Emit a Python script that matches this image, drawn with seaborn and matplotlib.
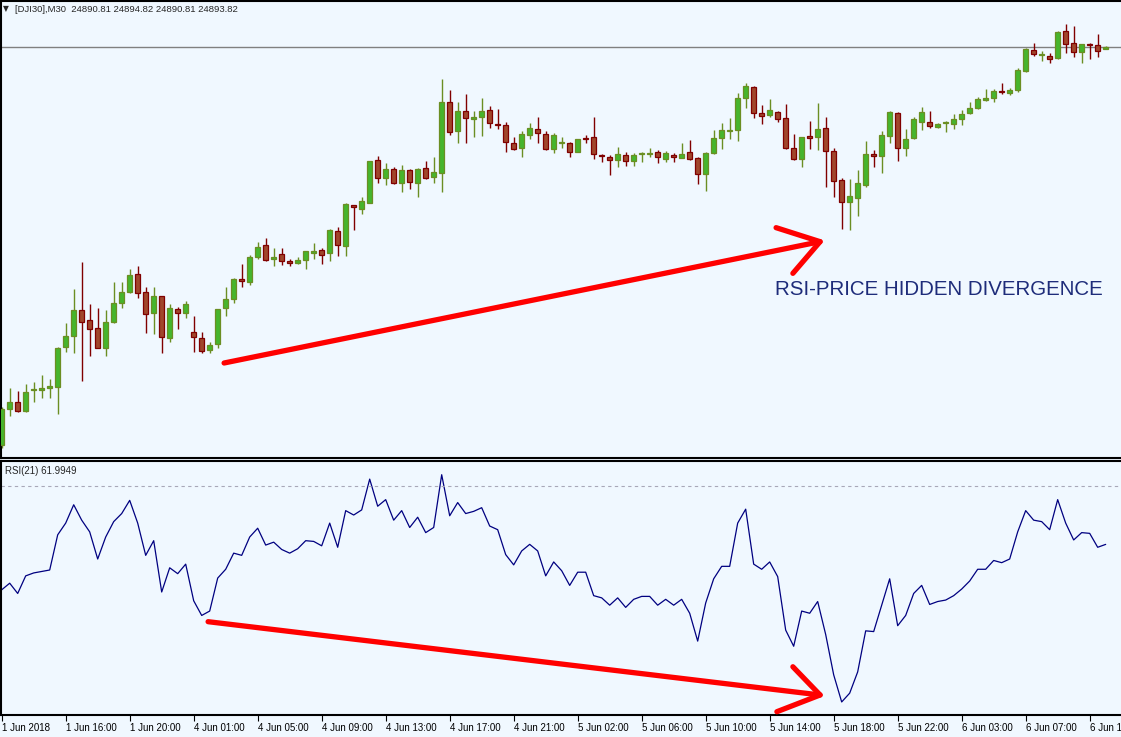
import numpy as np
import pandas as pd
import seaborn as sns
import matplotlib.pyplot as plt

# DJI30 M30 bars (1 Jun 12:00 -> 6 Jun 11:xx)
opens = [24416, 24458.8, 24467.2, 24457.2, 24482.4, 24482.4, 24484, 24486, 24533.2, 24546.4,
         24578, 24565.6, 24556, 24532, 24564, 24586.8, 24600, 24620.8, 24599.2, 24574,
         24594.4, 24544, 24579.2, 24574, 24551.2, 24544, 24529.6, 24536.8, 24580, 24591.6,
         24614.8, 24612, 24641.2, 24655.6, 24638.8, 24644.8, 24636.8, 24634.8, 24637.6, 24646.8,
         24649.6, 24646.8, 24672.4, 24655.2, 24703.6, 24699.6, 24706.8, 24758, 24736, 24746.8,
         24730.8, 24745.6, 24730, 24748, 24737.2, 24742.8, 24827.2, 24793.2, 24817.2, 24806.8,
         24810, 24817.6, 24801.2, 24799.6, 24778, 24772, 24787.6, 24794.8, 24789.2, 24770.8,
         24778, 24778, 24768, 24784.4, 24785.2, 24763.6, 24762, 24758.4, 24763.6, 24757.2,
         24764.8, 24765.6, 24767.2, 24759.6, 24764.4, 24760.8, 24767.2, 24760, 24741.6, 24766.8,
         24784.8, 24792.8, 24794, 24832.8, 24845.2, 24814, 24811.6, 24816, 24808, 24772,
         24758.8, 24786.4, 24786, 24796, 24768.8, 24734, 24707.2, 24712.8, 24728, 24764.8,
         24763.2, 24787.2, 24814, 24772, 24784, 24804, 24803.6, 24798, 24802, 24800.8,
         24806.8, 24814, 24820.8, 24830.4, 24832, 24840.8, 24838.8, 24842, 24864.4, 24890,
         24884, 24882.8, 24880.8, 24912.4, 24898, 24888, 24897.6, 24896, 24890.81]
highs = [24462, 24484, 24480.8, 24488.8, 24492, 24500, 24495.2, 24534, 24562, 24602.8,
         24635.6, 24584.8, 24580, 24578, 24611.6, 24612, 24626.8, 24630.8, 24605.2, 24606,
         24594.4, 24584.8, 24581.2, 24588.8, 24570.8, 24551.2, 24539.2, 24578.8, 24606, 24616,
         24632.8, 24644, 24659.2, 24664, 24652, 24652, 24638.8, 24641.2, 24649.2, 24658.4,
         24652.8, 24674.8, 24677.2, 24706.8, 24703.6, 24714, 24756.8, 24762.8, 24754, 24749.2,
         24751.6, 24747.2, 24748, 24756.8, 24761.2, 24855.2, 24842, 24827.2, 24837.2, 24817.2,
         24832.4, 24822.8, 24818.8, 24803.6, 24785.2, 24792.8, 24802.8, 24809.6, 24792.8, 24790,
         24785.2, 24780, 24783.2, 24788, 24809.2, 24764.8, 24764, 24773.2, 24767.2, 24766,
         24768, 24772.4, 24770, 24768.8, 24766, 24778, 24782, 24761.2, 24768, 24794,
         24802.8, 24808, 24838.8, 24850.8, 24846.8, 24824, 24830.8, 24817.2, 24825.2, 24788.8,
         24786, 24804.8, 24826.8, 24810, 24772, 24736, 24735.2, 24746, 24780.8, 24770,
         24792.8, 24816.8, 24815.2, 24794.8, 24809.2, 24821.2, 24816.8, 24802.8, 24805.2, 24813.2,
         24818, 24827.2, 24834, 24842.8, 24842.8, 24850, 24844, 24868.8, 24892, 24898,
         24889.2, 24886, 24913.2, 24921.2, 24918.8, 24897.2, 24898, 24909.2, 24894.82]
lows = [24412, 24450.8, 24456, 24456, 24468, 24472.8, 24472.8, 24452.8, 24528, 24526.8,
        24493.2, 24523.2, 24532, 24523.2, 24562.8, 24580, 24598, 24592, 24550.8, 24549.2,
        24526.8, 24540, 24555.6, 24568.8, 24528, 24526.8, 24526, 24532, 24570.8, 24586.8,
        24606, 24608, 24639.2, 24636.8, 24631.2, 24632.4, 24631.2, 24633.2, 24627.2, 24639.6,
        24633.6, 24636.8, 24643.2, 24643.2, 24674.4, 24692.8, 24706, 24730.8, 24728.4, 24728.8,
        24720, 24722.8, 24714, 24734.8, 24730.8, 24720, 24788.4, 24778, 24778.8, 24786,
        24786.8, 24796.8, 24794.8, 24768, 24770, 24762, 24782.8, 24778.8, 24770, 24766,
        24772, 24762, 24768, 24778.8, 24759.6, 24756, 24740, 24750, 24750.8, 24750.8,
        24756, 24762, 24754.8, 24756, 24756, 24760, 24758, 24729.2, 24721.2, 24765.2,
        24771.2, 24782.8, 24781.2, 24820, 24808.8, 24800.8, 24810, 24803.2, 24770.8, 24758,
        24750, 24770.8, 24770, 24725.2, 24713.2, 24675.2, 24674, 24691.2, 24726, 24750,
        24742.8, 24778.8, 24757.2, 24763.2, 24782.8, 24794, 24796.8, 24796, 24792, 24794.8,
        24800, 24813.2, 24819.6, 24828.8, 24828, 24837.2, 24836.4, 24839.2, 24863.6, 24883.2,
        24877.2, 24874.8, 24879.6, 24886, 24881.2, 24874, 24879.2, 24881.2, 24890.81]
closes = [24458.8, 24467.2, 24457.2, 24479.2, 24483.2, 24484, 24486.4, 24532, 24546.4, 24578,
          24564, 24554.8, 24532.8, 24564, 24586, 24599.2, 24619.6, 24598, 24572.8, 24594.4,
          24545.2, 24580, 24574, 24584.8, 24545.2, 24529.2, 24535.6, 24578.8, 24591.6, 24614.8,
          24613.2, 24641.2, 24654, 24638.4, 24642, 24636.4, 24634, 24638, 24648.4, 24648.4,
          24644.4, 24674, 24655.6, 24705.2, 24701.2, 24708.4, 24756.4, 24736.8, 24746.8, 24730.8,
          24746, 24732, 24746.8, 24736, 24743.2, 24827.2, 24792, 24816.4, 24808, 24810,
          24816.4, 24802, 24799.6, 24779.2, 24770.8, 24789.2, 24796, 24790, 24771.6, 24788,
          24780, 24768, 24783.2, 24782.8, 24764.8, 24762.8, 24758, 24764.8, 24757.2, 24763.6,
          24766, 24766.8, 24761.2, 24766, 24761.2, 24765.6, 24758.8, 24740.8, 24766, 24784,
          24794, 24794.4, 24832, 24846.4, 24814, 24810.8, 24817.6, 24807.2, 24772, 24758.8,
          24786, 24784.8, 24795.2, 24768.8, 24732.8, 24707.2, 24714.8, 24730, 24764.8, 24763.2,
          24788, 24815.2, 24772, 24782.8, 24807.2, 24815.2, 24799.2, 24801.2, 24803.6, 24807.2,
          24813.2, 24820.4, 24831.6, 24832.4, 24840.8, 24839.2, 24842, 24865.6, 24890.8, 24884.8,
          24885.2, 24878.8, 24911.2, 24896.8, 24888, 24897.2, 24896, 24888.8, 24893.82]

# RSI(21) per bar
rsi = [55.8, 56.7, 55.3, 57.7, 58.1, 58.3, 58.5, 63.3, 64.9, 67.4,
       65.3, 63.7, 60.0, 63.0, 65.1, 66.2, 68.0, 64.9, 60.5, 62.5,
       55.5, 58.8, 58.0, 59.3, 54.3, 52.3, 52.9, 57.4, 58.6, 60.8,
       60.5, 63.0, 64.2, 61.9, 62.3, 61.3, 60.8, 61.4, 62.5, 62.4,
       61.8, 64.9, 61.6, 66.6, 66.0, 66.7, 70.9, 67.2, 68.1, 65.3,
       66.6, 64.3, 65.7, 63.6, 64.3, 71.5, 65.9, 67.7, 66.2, 66.5,
       67.0, 64.5, 64.0, 60.6, 59.2, 61.1, 62.0, 61.1, 57.7, 59.6,
       58.4, 56.4, 58.2, 58.2, 55.0, 54.7, 53.7, 54.7, 53.4, 54.5,
       54.9, 54.9, 53.7, 54.5, 53.7, 54.5, 52.6, 48.8, 54.0, 57.3,
       59.0, 59.0, 64.9, 66.8, 59.3, 58.6, 59.6, 57.6, 50.3, 48.1,
       52.9, 52.6, 54.2, 49.7, 44.2, 40.5, 41.7, 44.6, 50.2, 50.1,
       53.7, 57.3, 50.9, 52.3, 55.3, 56.4, 53.8, 54.2, 54.4, 55.0,
       55.9, 57.0, 58.6, 58.6, 59.8, 59.5, 60.0, 63.7, 66.6, 65.3,
       65.1, 64.0, 68.1, 64.9, 62.6, 63.6, 63.5, 61.6, 61.9949]

tick_labels = ["1 Jun 2018", "1 Jun 16:00", "1 Jun 20:00", "4 Jun 01:00", "4 Jun 05:00",
               "4 Jun 09:00", "4 Jun 13:00", "4 Jun 17:00", "4 Jun 21:00", "5 Jun 02:00",
               "5 Jun 06:00", "5 Jun 10:00", "5 Jun 14:00", "5 Jun 18:00", "5 Jun 22:00",
               "6 Jun 03:00", "6 Jun 07:00", "6 Jun 11:00"]

df = pd.DataFrame({'open': opens, 'high': highs, 'low': lows, 'close': closes, 'rsi': rsi})
df['bar'] = np.arange(len(df))

sns.set_style("white")
plt.rcParams['font.family'] = ['Liberation Sans', 'DejaVu Sans']

bg = '#F0F8FF'
W, H = 1121, 737
fig = plt.figure(figsize=(W / 100, H / 100), dpi=100, facecolor=bg)
ax = fig.add_axes([1 / W, 1 - 458 / H, 1.0, 457 / H], facecolor=bg)
ax2 = fig.add_axes([1 / W, 1 - 715 / H, 1.0, 254 / H], facecolor=bg)

# candles
up = df['close'] >= df['open']
for mask, fill, edge in [(up, '#46B52D', '#6B8E23'), (~up, '#A0462C', '#800000')]:
    d = df[mask]
    ax.vlines(d['bar'], d['low'], d['high'], colors=edge, lw=1, zorder=2)
    ax.bar(d['bar'], (d['close'] - d['open']).abs().clip(lower=0.8),
           bottom=d[['open', 'close']].min(axis=1), width=0.62,
           color=fill, edgecolor=edge, linewidth=0.9, zorder=3)
ax.axhline(df['close'].iloc[-1], color='#808080', lw=1, zorder=1)

ax.set_xlim(-0.0875, 140.04)
ax.set_ylim(24400.4, 24948.8)
ax.set_xticks([])
ax.set_yticks([])

# rsi panel
sns.lineplot(data=df, x='bar', y='rsi', ax=ax2, color='#000080', linewidth=0.9)
ax2.axhline(70, color='#A8A8B8', lw=0.8, ls=(0, (3, 3)))
ax2.set_xlim(-0.0875, 140.04)
ax2.set_ylim(38.72, 73.37)
ax2.set_xlabel('')
ax2.set_ylabel('')
ax2.set_yticks([])
ax2.set_xticks(np.arange(0, len(df), 8))
ax2.set_xticklabels(tick_labels, ha='left', fontsize=7)
ax2.tick_params(axis='x', bottom=True, direction='out', length=4, width=0.8, pad=1.5, colors='black')

for a in (ax, ax2):
    for s in ('top', 'left', 'bottom'):
        a.spines[s].set_color('black')
        a.spines[s].set_linewidth(1.5)
    a.spines['right'].set_visible(False)

# hand drawn arrows
red = '#FF0000'
kw = dict(color=red, lw=3.8, solid_capstyle='round', solid_joinstyle='round', clip_on=False, zorder=5)
ax.plot([27.8, 102.3], [24514.4, 24660.0], **kw)
ax.plot([96.8, 102.3, 98.9], [24676.8, 24660.0, 24622.0], **kw)
ax2.plot([25.8, 102.3], [51.45, 41.45], **kw)
ax2.plot([98.9, 102.3, 96.9], [45.3, 41.45, 39.17], **kw)
ax.text(96.7, 24603.0, 'RSI-PRICE HIDDEN DIVERGENCE', color='#1E2C7A', fontsize=14.8,
        va='center', ha='left')

fig.text(3 / W, 1 - 9 / H, '▼', fontsize=5.5, va='center', family='DejaVu Sans')
fig.text(15 / W, 1 - 9 / H, '[DJI30],M30  24890.81 24894.82 24890.81 24893.82',
         fontsize=6.8, va='center')
fig.text(5 / W, 1 - 471 / H, 'RSI(21) 61.9949', fontsize=7, va='center')

fig.savefig('out.png', dpi=100, facecolor=bg)
